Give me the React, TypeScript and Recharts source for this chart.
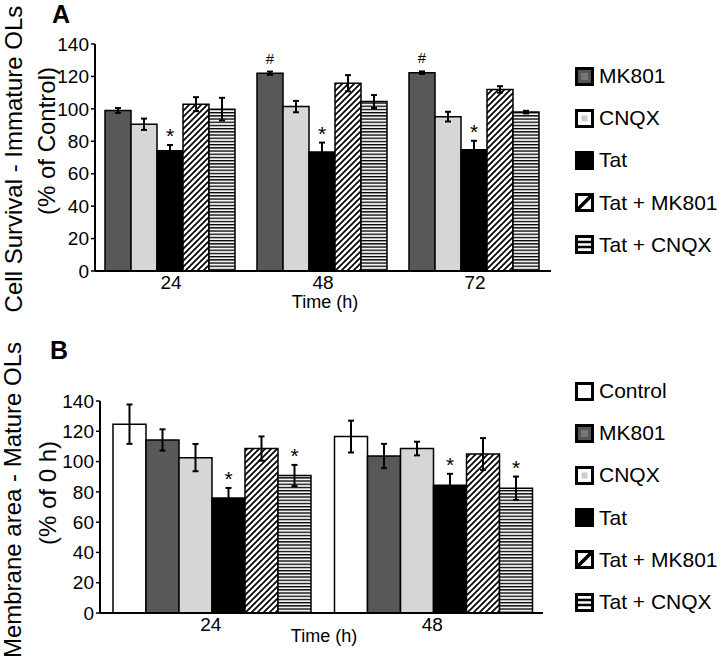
import React from 'react';
import { BarChart, Bar, XAxis, YAxis, ErrorBar, LabelList } from 'recharts';

// ---------- Panel A data ----------
const timesA = ['24', '48', '72'];
const seriesA = ['MK801', 'CNQX', 'Tat', 'Tat + MK801', 'Tat + CNQX'];
const mk801A = [99, 122, 122.3];
const cnqxA = [90.5, 101.4, 95.2];
const tatA = [74.2, 73.4, 74.8];
const tatMkA = [102.9, 115.8, 112];
const tatCnA = [99.8, 104.5, 98];
const mk801AErr = [1.5, 1, 0.8];
const cnqxAErr = [3.5, 3.5, 3];
const tatAErr = [3.5, 5.8, 5.5];
const tatMkAErr = [4.3, 5, 2];
const tatCnAErr = [7, 4, 0.8];
const mk801AMark = ['', '#', '#'];
const tatAMark = ['*', '*', '*'];

// ---------- Panel B data ----------
const timesB = ['24', '48'];
const seriesB = ['Control', 'MK801', 'CNQX', 'Tat', 'Tat + MK801', 'Tat + CNQX'];
const controlB = [124.7, 116.5];
const mk801B = [114.3, 103.7];
const cnqxB = [102.6, 108.6];
const tatB = [76, 84.4];
const tatMkB = [108.6, 105];
const tatCnB = [90.8, 82.4];
const controlBErr = [13, 10.5];
const mk801BErr = [7, 8];
const cnqxBErr = [9, 4.5];
const tatBErr = [6.6, 7.5];
const tatMkBErr = [8, 10.5];
const tatCnBErr = [7, 7.7];
const tatBMark = ['*', '*'];
const tatCnBMark = ['*', '*'];

const yTicks = [0, 20, 40, 60, 80, 100, 120, 140];

const FILLS: Record<string, string> = {
  Control: '#ffffff',
  MK801: '#585858',
  CNQX: '#d6d6d6',
  Tat: '#000000',
  'Tat + MK801': 'url(#hatchDiag)',
  'Tat + CNQX': 'url(#hatchHoriz)',
};

const FONT = '"Liberation Sans", Arial, Helvetica, sans-serif';

function buildRows(cats: string[], vals: number[][], errs: number[][]) {
  return cats.map((c, i) => {
    const row: Record<string, any> = { time: c };
    vals.forEach((v, k) => {
      row['s' + k] = v[i];
      row['e' + k] = errs[k][i];
    });
    return row;
  });
}

const valsA = [mk801A, cnqxA, tatA, tatMkA, tatCnA];
const errsA = [mk801AErr, cnqxAErr, tatAErr, tatMkAErr, tatCnAErr];
const marksA: (string[] | null)[] = [mk801AMark, null, tatAMark, null, null];
const rowsA = buildRows(timesA, valsA, errsA);

const valsB = [controlB, mk801B, cnqxB, tatB, tatMkB, tatCnB];
const errsB = [controlBErr, mk801BErr, cnqxBErr, tatBErr, tatMkBErr, tatCnBErr];
const marksB: (string[] | null)[] = [null, null, null, tatBMark, null, tatCnBMark];
const rowsB = buildRows(timesB, valsB, errsB);

function makeMarkRenderer(marks: string[], vals: number[], errs: number[]) {
  return (p: any) => {
    const idx = p.index;
    const m = marks[idx];
    if (!m) return null;
    const x = Number(p.x);
    const y = Number(p.y);
    const w = Number(p.width);
    const h = Number(p.height);
    const pxPerUnit = h / vals[idx];
    const errTop = y - errs[idx] * pxPerUnit;
    const isHash = m === '#';
    return (
      <text
        x={x + w / 2}
        y={errTop - (isHash ? 8 : 2)}
        textAnchor="middle"
        fontSize={isHash ? 15 : 21}
        fill="#000"
        fontFamily={FONT}
      >
        {m}
      </text>
    );
  };
}

function LegendIcon({ name }: { name: string }) {
  const s = 19;
  const b = 3;
  const inner = (() => {
    switch (name) {
      case 'Control':
        return <rect x={b / 2} y={b / 2} width={s - b} height={s - b} fill="#fff" stroke="#000" strokeWidth={b} />;
      case 'MK801':
        return (
          <g>
            <rect x={b / 2} y={b / 2} width={s - b} height={s - b} fill="#555" stroke="#000" strokeWidth={b} />
            <rect x={6} y={6} width={7} height={7} fill="#777" />
          </g>
        );
      case 'CNQX':
        return (
          <g>
            <rect x={b / 2} y={b / 2} width={s - b} height={s - b} fill="#fff" stroke="#000" strokeWidth={b} />
            <rect x={6.5} y={6.5} width={6} height={6} fill="#ccc" />
          </g>
        );
      case 'Tat':
        return <rect x={0} y={0} width={s} height={s} fill="#000" />;
      case 'Tat + MK801':
        return (
          <g>
            <rect x={b / 2} y={b / 2} width={s - b} height={s - b} fill="#fff" stroke="#000" strokeWidth={b} />
            <path d={`M${b},${s - b} L${s - b},${b}`} stroke="#000" strokeWidth={3.5} />
          </g>
        );
      case 'Tat + CNQX':
        return (
          <g>
            <rect x={b / 2} y={b / 2} width={s - b} height={s - b} fill="#fff" stroke="#000" strokeWidth={b} />
            <path d={`M0,7 L${s},7 M0,12 L${s},12`} stroke="#000" strokeWidth={2.5} />
          </g>
        );
      default:
        return null;
    }
  })();
  return (
    <svg width={s} height={s} style={{ display: 'block' }}>
      {inner}
    </svg>
  );
}

function LegendBlock({ names, left, top, step }: { names: string[]; left: number; top: number; step: number }) {
  return (
    <>
      {names.map((n, i) => (
        <div
          key={n}
          style={{
            position: 'absolute',
            left,
            top: top + i * step - 10,
            height: 20,
            display: 'flex',
            alignItems: 'center',
            whiteSpace: 'nowrap',
            fontFamily: FONT,
            fontSize: 21,
            color: '#000',
          }}
        >
          <LegendIcon name={n} />
          <span style={{ marginLeft: 5 }}>{n}</span>
        </div>
      ))}
    </>
  );
}

function RotText({ text, cx, cy, size }: { text: string; cx: number; cy: number; size: number }) {
  return (
    <div
      style={{
        position: 'absolute',
        left: cx,
        top: cy,
        transform: 'translate(-50%, -50%) rotate(-90deg)',
        whiteSpace: 'nowrap',
        fontFamily: FONT,
        fontSize: size,
        color: '#000',
        lineHeight: 1,
      }}
    >
      {text}
    </div>
  );
}

function PlainText({ text, cx, cy, size, bold }: { text: string; cx: number; cy: number; size: number; bold?: boolean }) {
  return (
    <div
      style={{
        position: 'absolute',
        left: cx,
        top: cy,
        transform: 'translate(-50%, -50%)',
        whiteSpace: 'nowrap',
        fontFamily: FONT,
        fontSize: size,
        fontWeight: bold ? 'bold' : 'normal',
        color: '#000',
        lineHeight: 1,
      }}
    >
      {text}
    </div>
  );
}

function Panel({
  rows,
  series,
  vals,
  errs,
  marks,
  height,
  margin,
  gap,
}: {
  rows: any[];
  series: string[];
  vals: number[][];
  errs: number[][];
  marks: (string[] | null)[];
  height: number;
  margin: { top: number; right: number; bottom: number; left: number };
  gap: number;
}) {
  return (
    <BarChart width={720} height={height} data={rows} margin={margin} barGap={0} barCategoryGap={gap}>
      <XAxis
        dataKey="time"
        height={30}
        tickLine={false}
        axisLine={{ stroke: '#000', strokeWidth: 2 }}
        tick={{ fill: '#000', fontSize: 19, fontFamily: FONT }}
        tickSize={3}
      />
      <YAxis
        width={60}
        domain={[0, 140]}
        ticks={yTicks}
        interval={0}
        axisLine={{ stroke: '#000', strokeWidth: 2 }}
        tickLine={{ stroke: '#000', strokeWidth: 1.5 }}
        tickSize={4}
        tick={{ fill: '#000', fontSize: 19, fontFamily: FONT }}
      />
      {series.map((name, k) => (
        <Bar
          key={name}
          dataKey={'s' + k}
          name={name}
          fill={FILLS[name]}
          stroke="#000"
          strokeWidth={1.5}
          isAnimationActive={false}
        >
          <ErrorBar dataKey={'e' + k} width={3} stroke="#000" strokeWidth={2} direction="y" />
          {marks[k] ? (
            <LabelList dataKey={'s' + k} content={makeMarkRenderer(marks[k] as string[], vals[k], errs[k])} />
          ) : null}
        </Bar>
      ))}
    </BarChart>
  );
}

export default function App() {
  return (
    <div
      style={{
        position: 'absolute',
        left: 0,
        top: 0,
        width: 720,
        height: 666,
        background: '#fff',
        overflow: 'hidden',
        fontFamily: FONT,
      }}
    >
      <svg width={0} height={0} style={{ position: 'absolute' }}>
        <defs>
          <pattern id="hatchDiag" patternUnits="userSpaceOnUse" width={6} height={6}>
            <rect width={6} height={6} fill="#fff" />
            <path d="M0,6 L6,0 M-1.5,1.5 L1.5,-1.5 M4.5,7.5 L7.5,4.5" stroke="#000" strokeWidth={1.7} />
          </pattern>
          <pattern id="hatchHoriz" patternUnits="userSpaceOnUse" width={6} height={3.2}>
            <rect width={6} height={3.2} fill="#f2f2f2" />
            <rect y={0} width={6} height={1.3} fill="#000" />
          </pattern>
        </defs>
      </svg>

      <div style={{ position: 'absolute', left: 0, top: 0 }}>
        <Panel
          rows={rowsA}
          series={seriesA}
          vals={valsA}
          errs={errsA}
          marks={marksA}
          height={330}
          margin={{ top: 44, right: 169, bottom: 29, left: 35 }}
          gap={10}
        />
      </div>
      <div style={{ position: 'absolute', left: 0, top: 330 }}>
        <Panel
          rows={rowsB}
          series={seriesB}
          vals={valsB}
          errs={errsB}
          marks={marksB}
          height={336}
          margin={{ top: 71, right: 177, bottom: 23, left: 40 }}
          gap={13}
        />
      </div>

      <PlainText text="A" cx={61} cy={14} size={25} bold />
      <PlainText text="B" cx={59} cy={350} size={25} bold />
      <RotText text="Cell Survival - Immature OLs" cx={14} cy={159} size={24} />
      <RotText text="(% of Control)" cx={47} cy={141} size={24} />
      <RotText text="Membrane area - Mature OLs" cx={13} cy={500} size={24} />
      <RotText text="(% of 0 h)" cx={48} cy={493} size={24} />
      <PlainText text="Time (h)" cx={325} cy={302} size={18} />
      <PlainText text="Time (h)" cx={324} cy={636} size={18} />

      <LegendBlock names={seriesA} left={575} top={76} step={42.2} />
      <LegendBlock names={seriesB} left={575} top={391} step={42.2} />
    </div>
  );
}
